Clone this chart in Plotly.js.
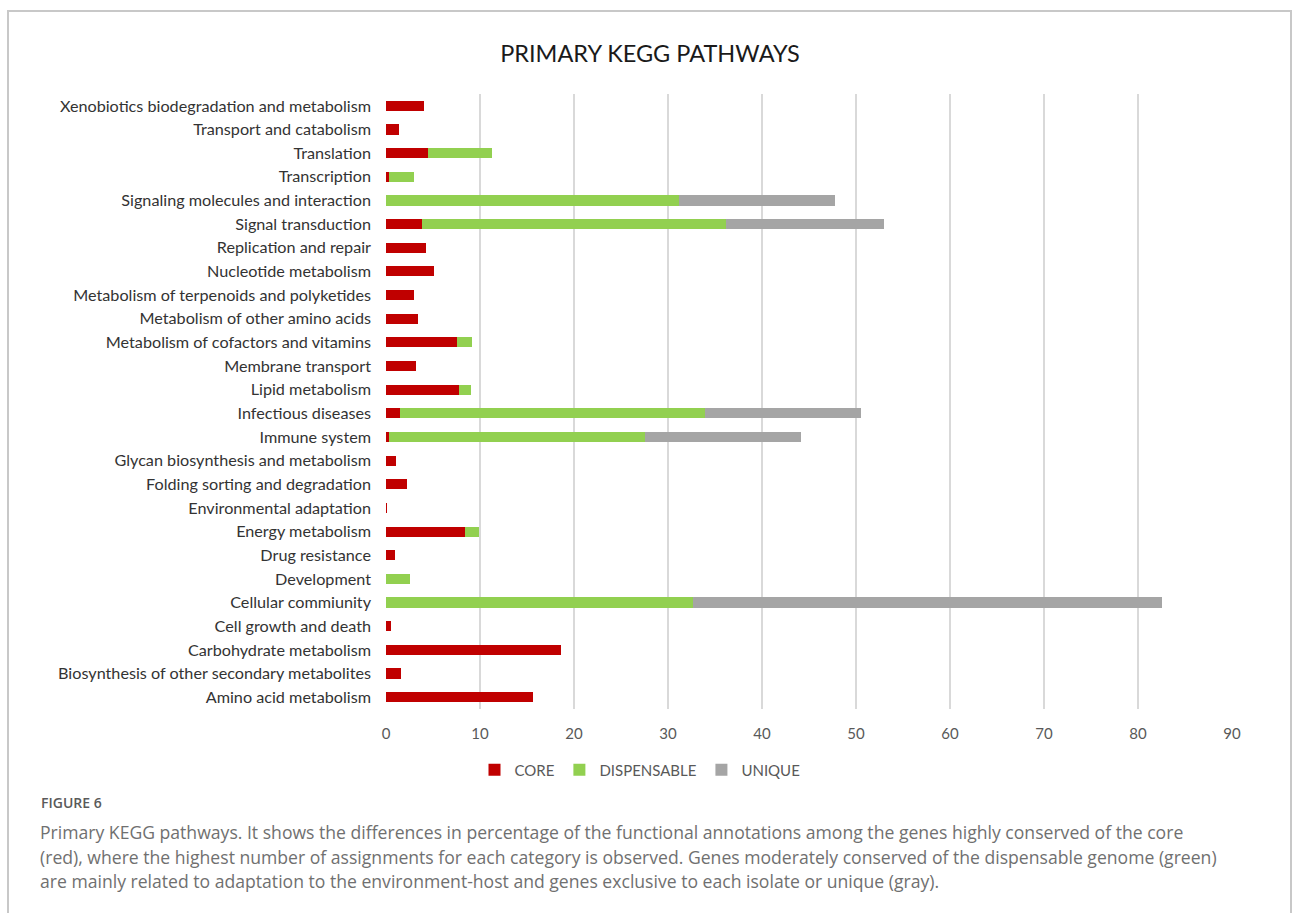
<!DOCTYPE html>
<html>
<head>
<meta charset="utf-8">
<script src="https://cdn.plot.ly/plotly-3.0.1.min.js"></script>
<style>
  html, body { margin: 0; padding: 0; background: #ffffff; }
  #chart { width: 1293px; height: 913px; }
</style>
</head>
<body>
<div id="chart"></div>
<script>
// KEGG pathway categories, listed bottom to top
const pathways = [
  "Amino acid metabolism",
  "Biosynthesis of other secondary metabolites",
  "Carbohydrate metabolism",
  "Cell growth and death",
  "Cellular commiunity",
  "Development",
  "Drug resistance",
  "Energy metabolism",
  "Environmental adaptation",
  "Folding sorting and degradation",
  "Glycan biosynthesis and metabolism",
  "Immune system",
  "Infectious diseases",
  "Lipid metabolism",
  "Membrane transport",
  "Metabolism of cofactors and vitamins",
  "Metabolism of other amino acids",
  "Metabolism of terpenoids and polyketides",
  "Nucleotide metabolism",
  "Replication and repair",
  "Signal transduction",
  "Signaling molecules and interaction",
  "Transcription",
  "Translation",
  "Transport and catabolism",
  "Xenobiotics biodegradation and metabolism"
];

// Percentage of functional annotations per genome fraction
const coreValues = [
  15.6, 1.6, 18.6, 0.5, 0, 0, 1.0, 8.4, 0.1, 2.2, 1.1, 0.3, 1.5,
  7.8, 3.2, 7.6, 3.4, 3.0, 5.1, 4.3, 3.8, 0, 0.3, 4.5, 1.35, 4.0
];
const dispensableValues = [
  0, 0, 0, 0, 32.7, 2.6, 0, 1.5, 0, 0, 0, 27.2, 32.4,
  1.2, 0, 1.5, 0, 0, 0, 0, 32.4, 31.2, 2.7, 6.8, 0, 0
];
const uniqueValues = [
  0, 0, 0, 0, 49.9, 0, 0, 0, 0, 0, 0, 16.6, 16.6,
  0, 0, 0, 0, 0, 0, 0, 16.8, 16.6, 0, 0, 0, 0
];

const seriesNames = ["CORE", "DISPENSABLE", "UNIQUE"];
const seriesColors = ["#C00000", "#92D050", "#A5A5A5"];
const xTicks = [0, 10, 20, 30, 40, 50, 60, 70, 80, 90];

const chartTitle = "PRIMARY KEGG PATHWAYS";
const figureLabel = "FIGURE 6";
const captionLines = [
  "Primary KEGG pathways. It shows the differences in percentage of the functional annotations among the genes highly conserved of the core",
  "(red), where the highest number of assignments for each category is observed. Genes moderately conserved of the dispensable genome (green)",
  "are mainly related to adaptation to the environment-host and genes exclusive to each isolate or unique (gray)."
];

// Figure geometry (pixels)
const W = 1293, H = 913;
const M = { l: 386, r: 61, t: 94, b: 204 };
const plotW = W - M.l - M.r;
const plotH = H - M.t - M.b;
const px = x => (x - M.l) / plotW;          // pixel x -> paper x
const py = y => (H - M.b - y) / plotH;      // pixel y -> paper y

const seriesValues = [coreValues, dispensableValues, uniqueValues];
const traces = seriesNames.map((name, i) => ({
  type: "bar",
  orientation: "h",
  name: name,
  y: pathways,
  x: seriesValues[i],
  marker: { color: seriesColors[i], line: { width: 0 } },
  hoverinfo: "x+y+name"
}));

const captionFont = { family: "Open Sans, Noto Sans, sans-serif", size: 17.6, color: "#707070" };

const annotations = [
  {
    text: figureLabel,
    xref: "paper", yref: "paper",
    x: px(39), y: py(802),
    xanchor: "left", yanchor: "middle",
    showarrow: false,
    font: { family: "Open Sans, Noto Sans, sans-serif", size: 14, color: "#5a5a5a", weight: 600 }
  }
].concat(captionLines.map((line, i) => ({
  text: line,
  xref: "paper", yref: "paper",
  x: px(38), y: py(832 + i * 24.5),
  xanchor: "left", yanchor: "middle",
  align: "left",
  showarrow: false,
  font: captionFont
})));

const layout = {
  width: W,
  height: H,
  margin: M,
  paper_bgcolor: "#ffffff",
  plot_bgcolor: "#ffffff",
  barmode: "stack",
  bargap: 0.57,
  title: {
    text: chartTitle,
    x: px(650), xref: "paper", xanchor: "center",
    y: 1 - 54 / H, yref: "container", yanchor: "middle",
    font: { family: "Lato, Open Sans, sans-serif", size: 23.5, color: "#1a1a1a" }
  },
  font: { family: "Lato, Open Sans, sans-serif" },
  xaxis: {
    range: [0, 90],
    tickvals: xTicks,
    ticktext: xTicks.map(String),
    showgrid: true,
    gridcolor: "#d9d9d9",
    gridwidth: 2,
    zeroline: false,
    showline: false,
    ticks: "",
    ticklabelstandoff: 14,
    tickfont: { family: "Lato, Open Sans, sans-serif", size: 15, color: "#595959" },
    fixedrange: true
  },
  yaxis: {
    type: "category",
    categoryorder: "array",
    categoryarray: pathways,
    showgrid: false,
    zeroline: false,
    showline: false,
    ticks: "",
    ticklabelstandoff: 14,
    tickfont: { family: "Lato, Open Sans, sans-serif", size: 16.2, color: "#333333" },
    fixedrange: true
  },
  showlegend: true,
  legend: {
    orientation: "h",
    x: px(640), xanchor: "center",
    y: py(770), yanchor: "middle",
    traceorder: "normal",
    font: { family: "Lato, Open Sans, sans-serif", size: 15, color: "#595959" },
    itemwidth: 30,
    bgcolor: "rgba(0,0,0,0)"
  },
  shapes: [
    {
      type: "rect",
      xref: "paper", yref: "paper",
      x0: px(8), x1: px(1291),
      y0: py(930), y1: py(11),
      line: { color: "#c8c8c8", width: 2 },
      fillcolor: "rgba(0,0,0,0)",
      layer: "below"
    }
  ],
  annotations: annotations
};

Plotly.newPlot("chart", traces, layout, { displayModeBar: false, staticPlot: true });
</script>
</body>
</html>
